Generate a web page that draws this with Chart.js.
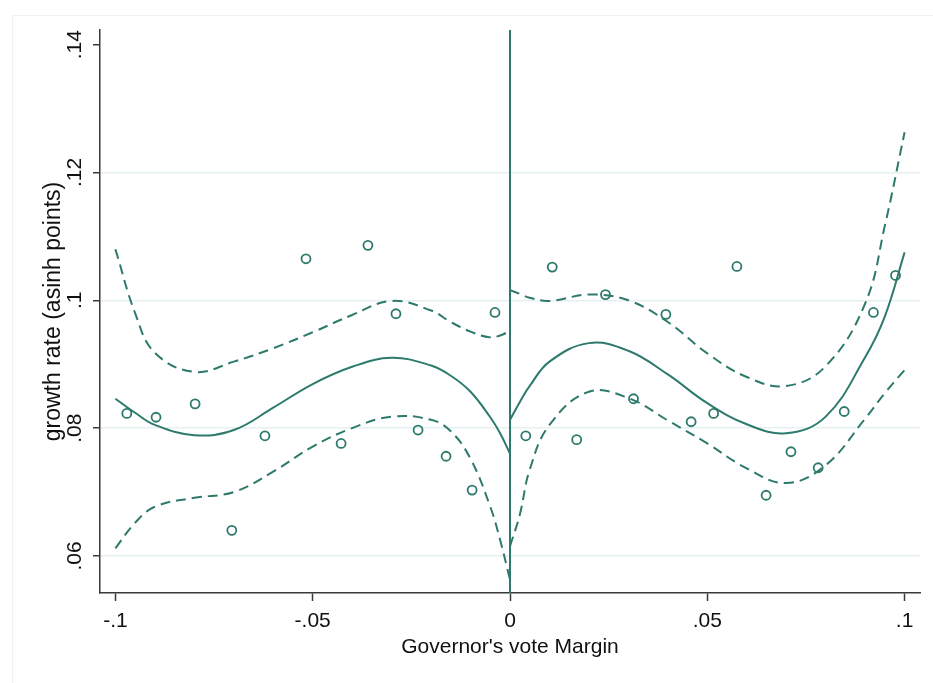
<!DOCTYPE html>
<html>
<head>
<meta charset="utf-8">
<script src="https://cdn.jsdelivr.net/npm/chart.js@4.4.1/dist/chart.umd.min.js"></script>
<style>
  html, body { margin: 0; padding: 0; background: #fff; }
  #wrap { position: relative; width: 933px; height: 683px; }
  #frame { position: absolute; left: 12px; top: 15px; right: 0; bottom: 0; border-left: 1px solid #f1f1f1; border-top: 1px solid #f1f1f1; }
  canvas { position: absolute; left: 0; top: 0; }
</style>
</head>
<body>
<div id="wrap">
  <div id="frame"></div>
  <canvas id="rdChart" width="933" height="683"></canvas>
</div>
<script>
// binned means, left of the cutoff
const binLeftX = [-0.0971, -0.0897, -0.0798, -0.0705, -0.0621, -0.0517, -0.0428, -0.0360, -0.0289, -0.0233, -0.0162, -0.0096, -0.0038];
const binLeftY = [0.0823, 0.0817, 0.0838, 0.0640, 0.0788, 0.1065, 0.0776, 0.1086, 0.0979, 0.0797, 0.0756, 0.0703, 0.0981];

// binned means, right of the cutoff
const binRightX = [0.0040, 0.0107, 0.0169, 0.0242, 0.0313, 0.0395, 0.0459, 0.0516, 0.0575, 0.0649, 0.0712, 0.0781, 0.0847, 0.0921, 0.0977];
const binRightY = [0.0788, 0.1052, 0.0782, 0.1009, 0.0846, 0.0978, 0.0810, 0.0823, 0.1053, 0.0695, 0.0763, 0.0738, 0.0826, 0.0981, 0.1039];

// polynomial fit + 95% CI, left side
const fitLeftX  = [-0.1, -0.095, -0.09, -0.08, -0.07, -0.06, -0.05, -0.04, -0.03, -0.02, -0.015, -0.01, -0.005, -0.0025, 0];
const fitLeftMid = [0.0846, 0.0824, 0.0805, 0.0789, 0.0797, 0.0832, 0.0869, 0.0896, 0.0910, 0.0898, 0.0882, 0.0857, 0.0817, 0.0792, 0.0760];
const fitLeftHi  = [0.1080, 0.0980, 0.0918, 0.0888, 0.0904, 0.0925, 0.0950, 0.0977, 0.0999, 0.0984, 0.0966, 0.0951, 0.0942, 0.0945, 0.0952];
const fitLeftLo  = [0.0612, 0.0652, 0.0677, 0.0691, 0.0700, 0.0732, 0.0771, 0.0800, 0.0818, 0.0813, 0.0795, 0.0752, 0.0677, 0.0625, 0.0563];

// polynomial fit + 95% CI, right side
const fitRightX  = [0, 0.0025, 0.005, 0.01, 0.02, 0.03, 0.04, 0.05, 0.06, 0.07, 0.08, 0.09, 0.095, 0.1];
const fitRightMid = [0.0813, 0.0841, 0.0866, 0.0904, 0.0933, 0.0921, 0.0884, 0.0839, 0.0806, 0.0792, 0.0818, 0.0911, 0.0975, 0.1075];
const fitRightHi  = [0.1016, 0.1010, 0.1004, 0.0999, 0.1009, 0.1000, 0.0966, 0.0917, 0.0880, 0.0866, 0.0897, 0.0995, 0.1117, 0.1263];
const fitRightLo  = [0.0615, 0.0665, 0.0735, 0.0805, 0.0857, 0.0847, 0.0812, 0.0776, 0.0737, 0.0714, 0.0742, 0.0815, 0.0855, 0.0891];

// axes
const xTickValues = [-0.1, -0.05, 0, 0.05, 0.1];
const xTickLabels = ['-.1', '-.05', '0', '.05', '.1'];
const yTickValues = [0.06, 0.08, 0.1, 0.12, 0.14];
const yTickLabels = ['.06', '.08', '.1', '.12', '.14'];
const xRange = [-0.1039, 0.1039];
const yRange = [0.0542, 0.1423];
const cutoff = 0;

const TEAL = '#2d7a6c';
const FONT = "'Liberation Sans', Arial, sans-serif";

function toPoints(xs, ys) {
    return xs.map((x, i) => ({ x: x, y: ys[i] }));
}

function curve(xs, ys, dashed) {
    return {
        data: toPoints(xs, ys),
        showLine: true,
        borderColor: TEAL,
        borderWidth: 2,
        borderDash: dashed ? [10, 6] : [],
        pointRadius: 0,
        tension: 0.4,
        fill: false
    };
}

function bins(xs, ys) {
    return {
        data: toPoints(xs, ys),
        showLine: false,
        pointStyle: 'circle',
        pointRadius: 4.5,
        pointBorderWidth: 1.8,
        pointBorderColor: TEAL,
        pointBackgroundColor: 'rgba(0,0,0,0)'
    };
}

const ctx = document.getElementById('rdChart').getContext('2d');

new Chart(ctx, {
    type: 'scatter',
    data: {
        datasets: [
            // threshold line
            {
                data: [{ x: cutoff, y: yRange[0] }, { x: cutoff, y: yRange[1] }],
                showLine: true,
                borderColor: TEAL,
                borderWidth: 2,
                pointRadius: 0
            },
            curve(fitLeftX, fitLeftHi, true),
            curve(fitLeftX, fitLeftLo, true),
            curve(fitLeftX, fitLeftMid, false),
            curve(fitRightX, fitRightHi, true),
            curve(fitRightX, fitRightLo, true),
            curve(fitRightX, fitRightMid, false),
            bins(binLeftX, binLeftY),
            bins(binRightX, binRightY)
        ]
    },
    options: {
        responsive: false,
        animation: false,
        devicePixelRatio: 1,
        layout: { padding: { left: 0, top: 30, right: 13, bottom: 0 } },
        plugins: {
            legend: { display: false },
            tooltip: { enabled: false }
        },
        scales: {
            x: {
                type: 'linear',
                min: xRange[0],
                max: xRange[1],
                afterBuildTicks: (s) => { s.ticks = xTickValues.map(v => ({ value: v })); },
                afterFit: (s) => { s.height = 90; },
                grid: {
                    drawOnChartArea: false,
                    drawTicks: true,
                    tickLength: 8,
                    tickColor: '#3a3a3a',
                    tickWidth: 1.5
                },
                border: { display: true, color: '#3a3a3a', width: 1.5 },
                ticks: {
                    color: '#111',
                    font: { family: FONT, size: 21 },
                    padding: 8,
                    maxRotation: 0,
                    autoSkip: false,
                    callback: (v) => xTickLabels[xTickValues.indexOf(v)]
                },
                title: {
                    display: true,
                    text: "Governor's vote Margin",
                    color: '#111',
                    font: { family: FONT, size: 21 },
                    padding: { top: 0, bottom: 23 }
                }
            },
            y: {
                type: 'linear',
                min: yRange[0],
                max: yRange[1],
                afterBuildTicks: (s) => { s.ticks = yTickValues.map(v => ({ value: v })); },
                afterFit: (s) => { s.width = 100; },
                grid: {
                    color: (c) => (c.tick && c.tick.value === 0.14) ? 'rgba(0,0,0,0)' : '#e6f0f1',
                    lineWidth: 1.5,
                    drawTicks: true,
                    tickLength: 7,
                    tickColor: '#3a3a3a',
                    tickWidth: 1.5
                },
                border: { display: true, color: '#3a3a3a', width: 1.5 },
                ticks: {
                    color: '#111',
                    font: { family: FONT, size: 21 },
                    padding: 3,
                    minRotation: 90,
                    maxRotation: 90,
                    crossAlign: 'center',
                    autoSkip: false,
                    callback: (v) => yTickLabels[yTickValues.indexOf(v)]
                },
                title: {
                    display: true,
                    text: 'growth rate (asinh points)',
                    color: '#111',
                    font: { family: FONT, size: 23 },
                    padding: { top: 40, bottom: 0 }
                }
            }
        }
    }
});
</script>
</body>
</html>
